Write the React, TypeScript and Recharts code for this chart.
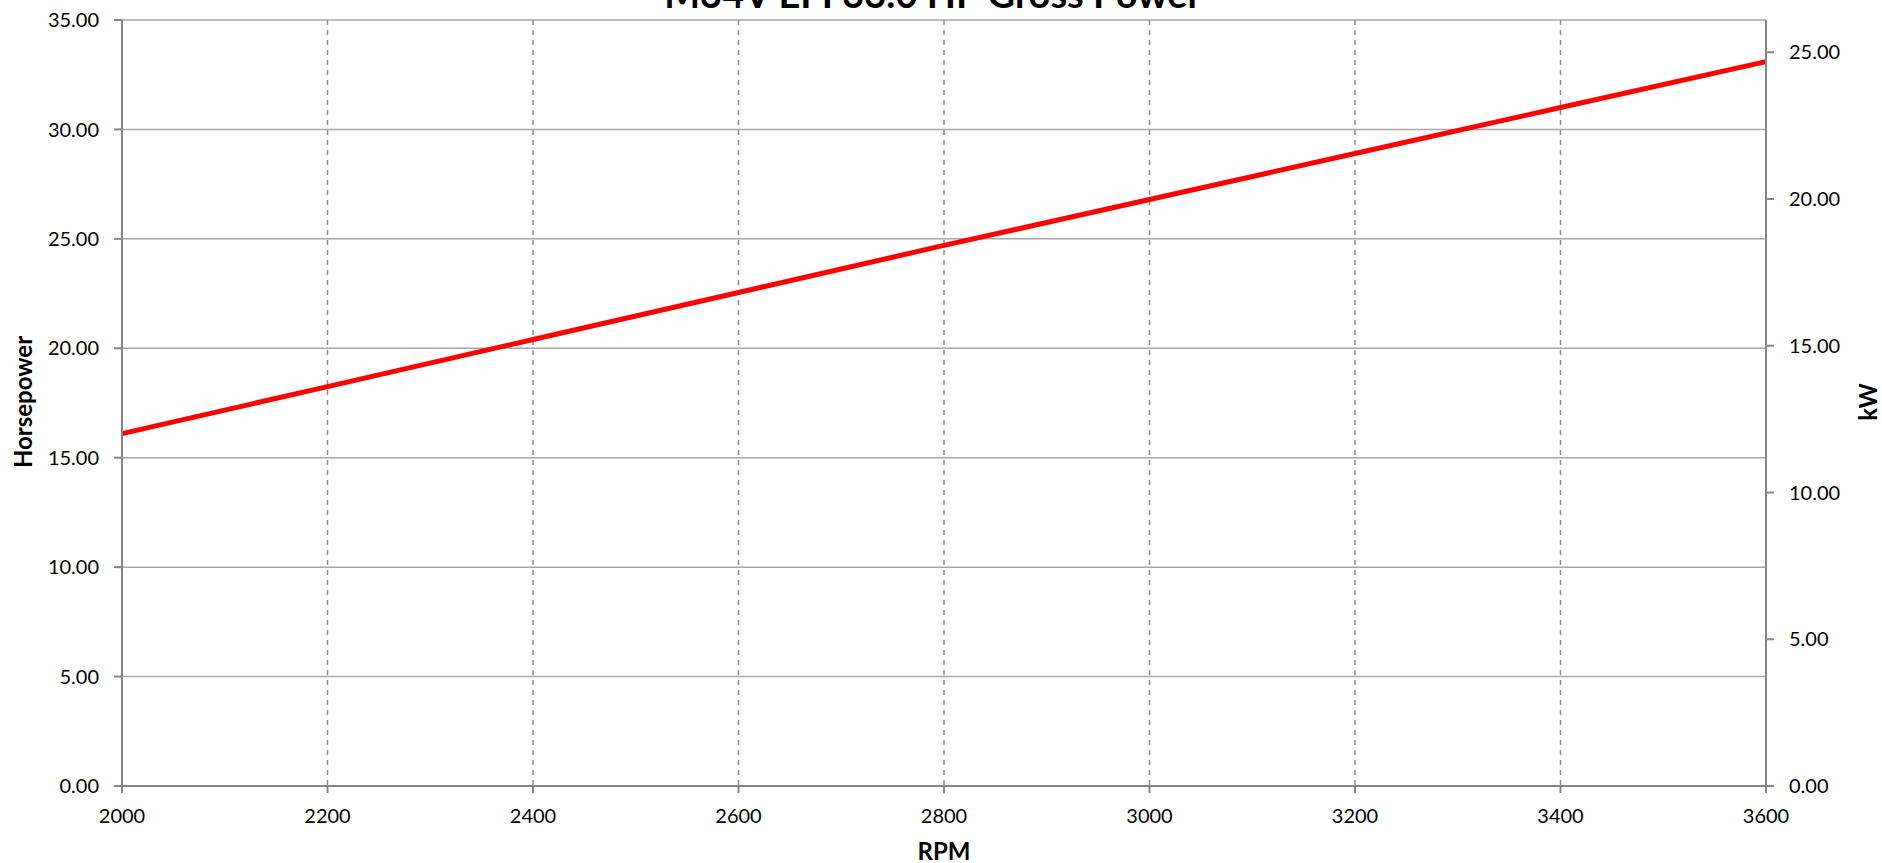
import { LineChart, Line, XAxis, YAxis, CartesianGrid } from 'recharts';

// engine speed (RPM) and gross power
const rpm = [2000, 2200, 2400, 2600, 2800, 3000, 3200, 3400, 3600];
const horsepower = [16.1, 18.25, 20.4, 22.55, 24.7, 26.8, 28.9, 31.0, 33.1];

const rpmTicks = [2000, 2200, 2400, 2600, 2800, 3000, 3200, 3400, 3600];
const hpTicks = [0, 5, 10, 15, 20, 25, 30, 35];
const kwTicks = [0, 5, 10, 15, 20, 25];

const HP_MAX = 35;
const KW_PER_HP = 0.7457;

const FONT = 'Lato, "Open Sans", sans-serif';
const AXIS = '#868686';

const data = rpm.map((r, i) => ({ rpm: r, hp: horsepower[i] }));

const fmt = (v: number) => v.toFixed(2);

export default function App() {
  const tickStyle = { fill: '#000', fontSize: 20, fontFamily: FONT };

  return (
    <div style={{ position: 'fixed', left: 0, top: 0, width: 1882, height: 863, background: '#fff' }}>
      <LineChart width={1882} height={863} data={data} margin={{ top: 20, right: 0, bottom: 0, left: 0 }}>
        <CartesianGrid vertical={false} yAxisId="hp" stroke="#a6a6a6" strokeWidth={1.5} />
        <CartesianGrid horizontal={false} yAxisId="hp" stroke="#8c8c8c" strokeDasharray="5 5" strokeWidth={1.5} />
        <XAxis
          dataKey="rpm"
          type="number"
          domain={[2000, 3600]}
          ticks={rpmTicks}
          height={77}
          tickSize={7}
          tickMargin={16}
          tick={tickStyle}
          axisLine={{ stroke: AXIS, strokeWidth: 2 }}
          tickLine={{ stroke: AXIS, strokeWidth: 2 }}
        />
        <YAxis
          yAxisId="hp"
          orientation="left"
          type="number"
          domain={[0, HP_MAX]}
          ticks={hpTicks}
          width={122}
          tickSize={8}
          tickMargin={15}
          tickFormatter={fmt}
          tick={tickStyle}
          axisLine={{ stroke: AXIS, strokeWidth: 2 }}
          tickLine={{ stroke: AXIS, strokeWidth: 2 }}
        />
        <YAxis
          yAxisId="kw"
          orientation="right"
          type="number"
          domain={[0, HP_MAX * KW_PER_HP]}
          ticks={kwTicks}
          allowDataOverflow
          width={116}
          tickSize={8}
          tickMargin={15}
          tickFormatter={fmt}
          tick={tickStyle}
          axisLine={{ stroke: AXIS, strokeWidth: 2 }}
          tickLine={{ stroke: AXIS, strokeWidth: 2 }}
        />
        <Line
          yAxisId="hp"
          type="linear"
          dataKey="hp"
          stroke="#ff0000"
          strokeWidth={5}
          dot={false}
          activeDot={false}
          isAnimationActive={false}
        />
      </LineChart>
      <svg
        width={1882}
        height={863}
        style={{ position: 'absolute', left: 0, top: 0, pointerEvents: 'none', fontFamily: FONT }}
      >
        <text x={933} y={8} textAnchor="middle" fontSize={38} fontWeight="bold" fill="#000">
          M34V EFI 33.0 HP Gross Power
        </text>
        <text x={944} y={860} textAnchor="middle" fontSize={24} fontWeight="bold" fill="#000">
          RPM
        </text>
        <text
          x={32}
          y={402}
          textAnchor="middle"
          fontSize={24}
          fontWeight="bold"
          fill="#000"
          transform="rotate(-90 32 402)"
        >
          Horsepower
        </text>
        <text
          x={1877}
          y={402}
          textAnchor="middle"
          fontSize={24}
          fontWeight="bold"
          fill="#000"
          transform="rotate(-90 1877 402)"
        >
          kW
        </text>
      </svg>
    </div>
  );
}
